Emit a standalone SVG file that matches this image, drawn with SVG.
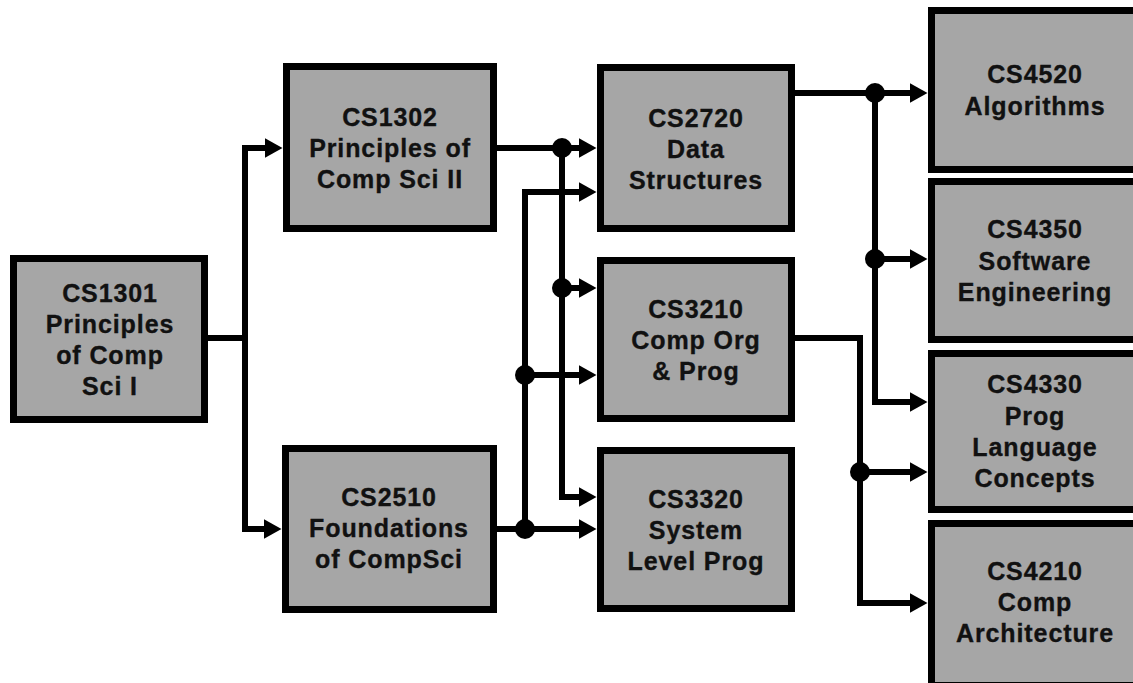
<svg xmlns="http://www.w3.org/2000/svg" width="1133" height="683" viewBox="0 0 1133 683">
<style>
.box{fill:#a6a6a6;stroke:#000;stroke-width:7}
.t{font-family:"Liberation Sans",Arial,Helvetica,sans-serif;font-weight:bold;font-size:25px;letter-spacing:0.9px;text-anchor:middle;fill:#111;stroke:#111;stroke-width:0.35}
.c path{fill:none;stroke:#000;stroke-width:6;stroke-linejoin:miter}
.c path.a{marker-end:url(#arr)}
.c circle{fill:#000}
</style>
<defs>
<marker id="arr" markerUnits="userSpaceOnUse" viewBox="0 -10 18 20" markerWidth="18" markerHeight="20" refX="0.5" refY="0" orient="auto">
<path d="M0,-10 L18,0 L0,10 z" fill="#000"/>
</marker>
</defs>
<rect width="1133" height="683" fill="#fff"/>
<g id="connectors" class="c">
<path d="M208,338 H245"/>
<path class="a" d="M245,338 V148 H265"/>
<path class="a" d="M245,338 V529 H264"/>
<path class="a" d="M497,148 H579"/>
<path class="a" d="M562,148 V497 H579"/>
<path class="a" d="M562,288 H579"/>
<path class="a" d="M497,529 H579"/>
<path class="a" d="M525,529 V192 H579"/>
<path class="a" d="M525,375 H579"/>
<path class="a" d="M795,93 H910"/>
<path class="a" d="M875,93 V402 H910"/>
<path class="a" d="M875,259 H910"/>
<path class="a" d="M795,338 H860 V603 H910"/>
<path class="a" d="M860,472 H910"/>
<circle cx="562" cy="148" r="10"/>
<circle cx="562" cy="288" r="10"/>
<circle cx="525" cy="375" r="10"/>
<circle cx="525" cy="529" r="10"/>
<circle cx="875" cy="93" r="10"/>
<circle cx="875" cy="259" r="10"/>
<circle cx="860" cy="472" r="10"/>
</g>
<g id="cs1301">
<rect class="box" x="13.5" y="258.5" width="191" height="161"/>
<text class="t" x="110" y="302">CS1301</text>
<text class="t" x="110" y="333">Principles</text>
<text class="t" x="110" y="364">of Comp</text>
<text class="t" x="110" y="395">Sci I</text>
</g>
<g id="cs1302">
<rect class="box" x="286.5" y="66.5" width="207" height="162"/>
<text class="t" x="390" y="126">CS1302</text>
<text class="t" x="390" y="157">Principles of</text>
<text class="t" x="390" y="188">Comp Sci II</text>
</g>
<g id="cs2510">
<rect class="box" x="285.5" y="448.5" width="208" height="161"/>
<text class="t" x="389" y="506">CS2510</text>
<text class="t" x="389" y="537">Foundations</text>
<text class="t" x="389" y="568">of CompSci</text>
</g>
<g id="cs2720">
<rect class="box" x="600.5" y="67.5" width="191" height="161"/>
<text class="t" x="696" y="127">CS2720</text>
<text class="t" x="696" y="158">Data</text>
<text class="t" x="696" y="189">Structures</text>
</g>
<g id="cs3210">
<rect class="box" x="600.5" y="260.5" width="191" height="158"/>
<text class="t" x="696" y="318">CS3210</text>
<text class="t" x="696" y="349">Comp Org</text>
<text class="t" x="696" y="380">&amp; Prog</text>
</g>
<g id="cs3320">
<rect class="box" x="600.5" y="450.5" width="191" height="158"/>
<text class="t" x="696" y="508">CS3320</text>
<text class="t" x="696" y="539">System</text>
<text class="t" x="696" y="570">Level Prog</text>
</g>
<g id="cs4520">
<rect class="box" x="931.5" y="10.5" width="207" height="159"/>
<text class="t" x="1035" y="83">CS4520</text>
<text class="t" x="1035" y="115">Algorithms</text>
</g>
<g id="cs4350">
<rect class="box" x="931.5" y="181.5" width="207" height="158"/>
<text class="t" x="1035" y="238">CS4350</text>
<text class="t" x="1035" y="270">Software</text>
<text class="t" x="1035" y="301">Engineering</text>
</g>
<g id="cs4330">
<rect class="box" x="931.5" y="353.5" width="207" height="156"/>
<text class="t" x="1035" y="393">CS4330</text>
<text class="t" x="1035" y="425">Prog</text>
<text class="t" x="1035" y="456">Language</text>
<text class="t" x="1035" y="487">Concepts</text>
</g>
<g id="cs4210">
<rect class="box" x="931.5" y="523.5" width="207" height="162"/>
<text class="t" x="1035" y="580">CS4210</text>
<text class="t" x="1035" y="611">Comp</text>
<text class="t" x="1035" y="642">Architecture</text>
</g>
</svg>
